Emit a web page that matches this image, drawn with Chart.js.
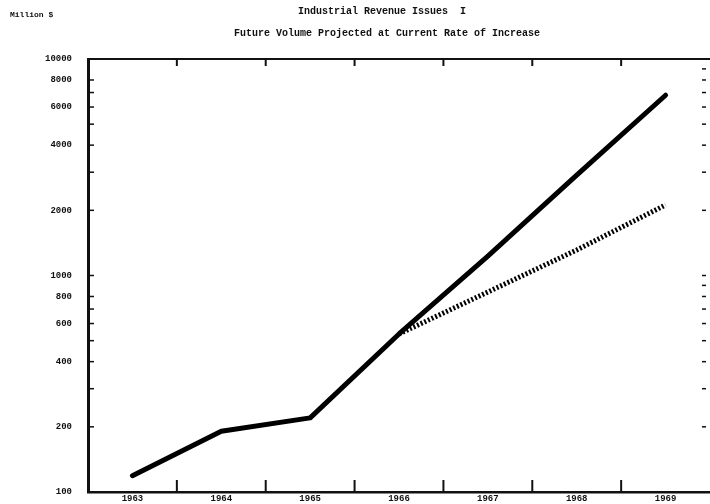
<!DOCTYPE html>
<html>
<head>
<meta charset="utf-8">
<script src="https://cdn.jsdelivr.net/npm/chart.js@4.4.1/dist/chart.umd.min.js"></script>
<style>
html,body{margin:0;padding:0;background:#fff;}
#wrap{width:710px;height:504px;position:relative;}
</style>
</head>
<body>
<div id="wrap"><canvas id="c" width="710" height="504"></canvas></div>
<script>
// ---- data ----
const years = ['1963','1964','1965','1966','1967','1968','1969'];
const actualVolume = [119, 191, 220, 537, 1230, 2910, 6800];
const projectedVolume = [null, null, null, 537, 839, 1312, 2118];
const yTickLabels = [100, 200, 400, 600, 800, 1000, 2000, 4000, 6000, 8000, 10000];
const yMinorTicks = [200, 300, 400, 500, 600, 700, 800, 1000, 2000, 3000, 4000, 5000, 6000, 7000, 8000];
const yRightTicks = [200, 300, 400, 500, 600, 700, 800, 900, 1000, 2000, 3000, 4000, 5000, 6000, 7000, 8000, 9000];
const titleText = 'Industrial Revenue Issues  I';
const subtitleText = 'Future Volume Projected at Current Rate of Increase';
const unitText = 'Million $';

const FONT = '"Liberation Mono", "DejaVu Sans Mono", monospace';

const decor = {
  id: 'decor',
  afterDraw(chart) {
    const ctx = chart.ctx;
    const a = chart.chartArea;
    const x = chart.scales.x, y = chart.scales.y;
    ctx.save();
    ctx.strokeStyle = '#111';
    ctx.fillStyle = '#111';
    // top border
    ctx.lineWidth = 2;
    ctx.beginPath(); ctx.moveTo(a.left, a.top); ctx.lineTo(a.right, a.top); ctx.stroke();
    // inner ticks on left axis
    ctx.lineWidth = 1.5;
    yMinorTicks.forEach(v => {
      const py = y.getPixelForValue(v);
      ctx.beginPath(); ctx.moveTo(a.left, py); ctx.lineTo(a.left + 6, py); ctx.stroke();
    });
    // right side ticks
    yRightTicks.forEach(v => {
      const py = y.getPixelForValue(v);
      ctx.beginPath(); ctx.moveTo(a.right - 8, py); ctx.lineTo(a.right - 4, py); ctx.stroke();
    });
    // bottom and top ticks at category boundaries
    ctx.lineWidth = 2;
    for (let i = 0; i < years.length - 1; i++) {
      const px = (x.getPixelForValue(i) + x.getPixelForValue(i + 1)) / 2;
      ctx.beginPath(); ctx.moveTo(px, a.bottom); ctx.lineTo(px, a.bottom - 12); ctx.stroke();
      ctx.beginPath(); ctx.moveTo(px, a.top); ctx.lineTo(px, a.top + 7); ctx.stroke();
    }
    // texts
    ctx.textBaseline = 'middle';
    ctx.font = 'bold 10px ' + FONT;
    ctx.textAlign = 'center';
    ctx.fillText(titleText, 382, 11);
    ctx.fillText(subtitleText, 387, 33);
    ctx.textAlign = 'left';
    ctx.font = 'bold 8px ' + FONT;
    ctx.fillText(unitText, 10, 15);
    ctx.restore();
  }
};

new Chart(document.getElementById('c'), {
  type: 'line',
  data: {
    labels: years,
    datasets: [
      {
        label: 'Actual',
        data: actualVolume,
        borderColor: '#000',
        borderWidth: 5,
        borderCapStyle: 'round',
        borderJoinStyle: 'round',
        pointRadius: 0,
        tension: 0,
        fill: false
      },
      {
        label: 'Projected',
        data: projectedVolume,
        borderColor: '#000',
        borderWidth: 5,
        borderDash: [2, 2],
        borderCapStyle: 'butt',
        pointRadius: 0,
        tension: 0,
        fill: false,
        spanGaps: false
      }
    ]
  },
  options: {
    responsive: false,
    animation: false,
    devicePixelRatio: 1,
    layout: { padding: { top: 59, left: 0, right: 0, bottom: 0 } },
    plugins: { legend: { display: false }, tooltip: { enabled: false }, title: { display: false } },
    scales: {
      x: {
        type: 'category',
        offset: true,
        grid: { display: true, offset: true, drawOnChartArea: false, drawTicks: false },
        border: { display: true, color: '#111', width: 2.5 },
        ticks: { color: '#111', font: { family: FONT, size: 9, weight: 'bold' }, padding: 1, maxRotation: 0 },
        afterFit(s) { s.height = 12; s.paddingLeft = 0; s.paddingRight = 0; s.paddingTop = 0; s.paddingBottom = 0; }
      },
      y: {
        type: 'logarithmic',
        min: 100,
        max: 10000,
        afterBuildTicks(s) { s.ticks = yTickLabels.map(v => ({ value: v })); },
        grid: { display: true, drawOnChartArea: false, drawTicks: false },
        border: { display: true, color: '#111', width: 3 },
        ticks: {
          color: '#111',
          font: { family: FONT, size: 9, weight: 'bold' },
          padding: 16,
          callback: (v) => String(v)
        },
        afterFit(s) { s.width = 88; s.paddingTop = 0; s.paddingBottom = 0; s.paddingLeft = 0; s.paddingRight = 0; }
      }
    }
  },
  plugins: [decor]
});
</script>
</body>
</html>
